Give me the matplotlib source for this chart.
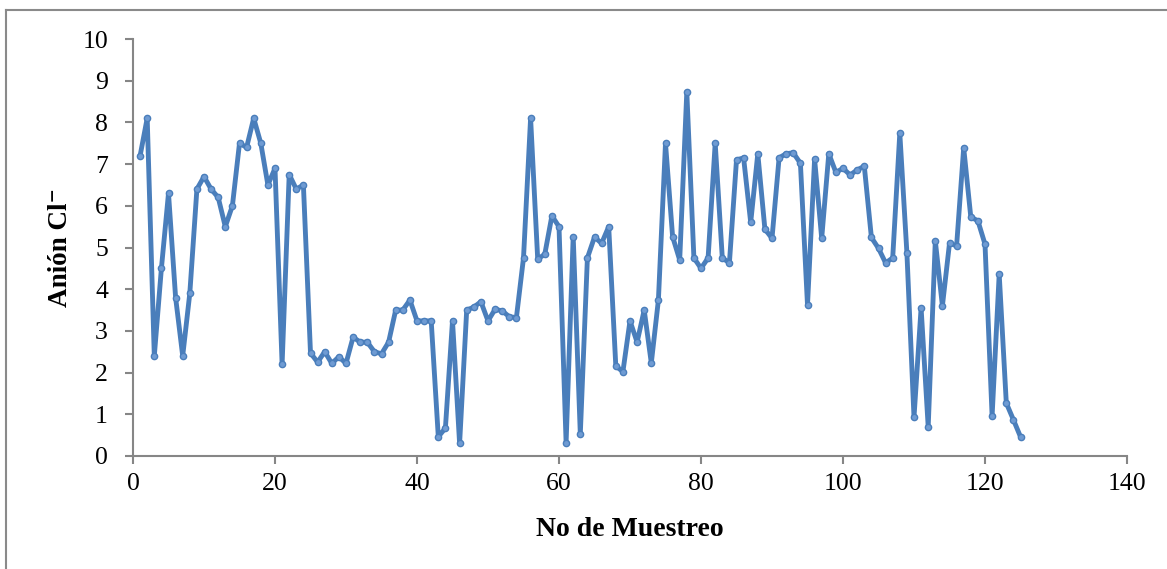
import matplotlib
matplotlib.use("Agg")
import matplotlib.pyplot as plt
from matplotlib.lines import Line2D

# Sample numbers and measured chloride values
muestreo = list(range(1, 126))
cloruro = [
    7.2, 8.1, 2.4, 4.5, 6.3, 3.8, 2.4, 3.9, 6.4, 6.7,
    6.4, 6.2, 5.5, 6.0, 7.5, 7.4, 8.1, 7.5, 6.5, 6.9,
    2.2, 6.75, 6.4, 6.5, 2.47, 2.25, 2.5, 2.22, 2.38, 2.22,
    2.85, 2.73, 2.73, 2.5, 2.45, 2.73, 3.5, 3.5, 3.74, 3.24,
    3.24, 3.24, 0.46, 0.67, 3.24, 0.3, 3.5, 3.57, 3.7, 3.24,
    3.52, 3.48, 3.34, 3.32, 4.75, 8.1, 4.72, 4.84, 5.76, 5.5,
    0.32, 5.26, 0.53, 4.75, 5.25, 5.1, 5.5, 2.16, 2.02, 3.24,
    2.73, 3.5, 2.23, 3.74, 7.5, 5.26, 4.7, 8.73, 4.75, 4.5,
    4.75, 7.5, 4.75, 4.63, 7.1, 7.15, 5.6, 7.25, 5.44, 5.22,
    7.15, 7.25, 7.27, 7.02, 3.62, 7.12, 5.22, 7.25, 6.8, 6.9,
    6.74, 6.86, 6.95, 5.24, 4.98, 4.63, 4.75, 7.74, 4.87, 0.93,
    3.55, 0.7, 5.16, 3.6, 5.1, 5.04, 7.39, 5.73, 5.64, 5.08,
    0.96, 4.36, 1.27, 0.87, 0.46,
]
x_ticks = [0, 20, 40, 60, 80, 100, 120, 140]
y_ticks = list(range(0, 11))

serif = ["Liberation Serif", "DejaVu Serif"]
plt.rcParams["font.family"] = serif

fig = plt.figure(figsize=(11.67, 5.69), dpi=100)
ax = fig.add_axes([133 / 1167, 1 - 456 / 569, (1127 - 133) / 1167, (456 - 39) / 569])

line_color = "#4a7ebb"
ax.plot(muestreo, cloruro, color=line_color, linewidth=3.5,
        marker="o", markersize=4.5, markerfacecolor="#6f9bd3",
        markeredgecolor=line_color, markeredgewidth=1.0,
        solid_joinstyle="round", zorder=3)

ax.set_xlim(0, 140)
ax.set_ylim(0, 10)
ax.set_xticks(x_ticks)
ax.set_yticks(y_ticks)

axis_gray = "#868686"
for side in ("top", "right"):
    ax.spines[side].set_visible(False)
for side in ("left", "bottom"):
    ax.spines[side].set_color(axis_gray)
    ax.spines[side].set_linewidth(1.5)

ax.tick_params(axis="both", direction="out", length=6, width=1.5,
               color=axis_gray, labelsize=18.5, labelcolor="black")
ax.tick_params(axis="y", pad=12)
ax.tick_params(axis="x", pad=6)

ax.set_xlabel("No de Muestreo", fontsize=20, fontweight="bold", labelpad=16)
ax.set_ylabel("Anión Cl⁻", fontsize=19.5, fontweight="bold", labelpad=7)

# Outer frame around the chart area
fig.add_artist(Line2D([6 / 1167, 1], [1 - 10 / 569, 1 - 10 / 569],
                      transform=fig.transFigure, color="#8a8a8a", linewidth=1.5))
fig.add_artist(Line2D([6 / 1167, 6 / 1167], [0, 1 - 10 / 569],
                      transform=fig.transFigure, color="#8a8a8a", linewidth=1.5))

fig.savefig("out.png", dpi=100, facecolor="white")
